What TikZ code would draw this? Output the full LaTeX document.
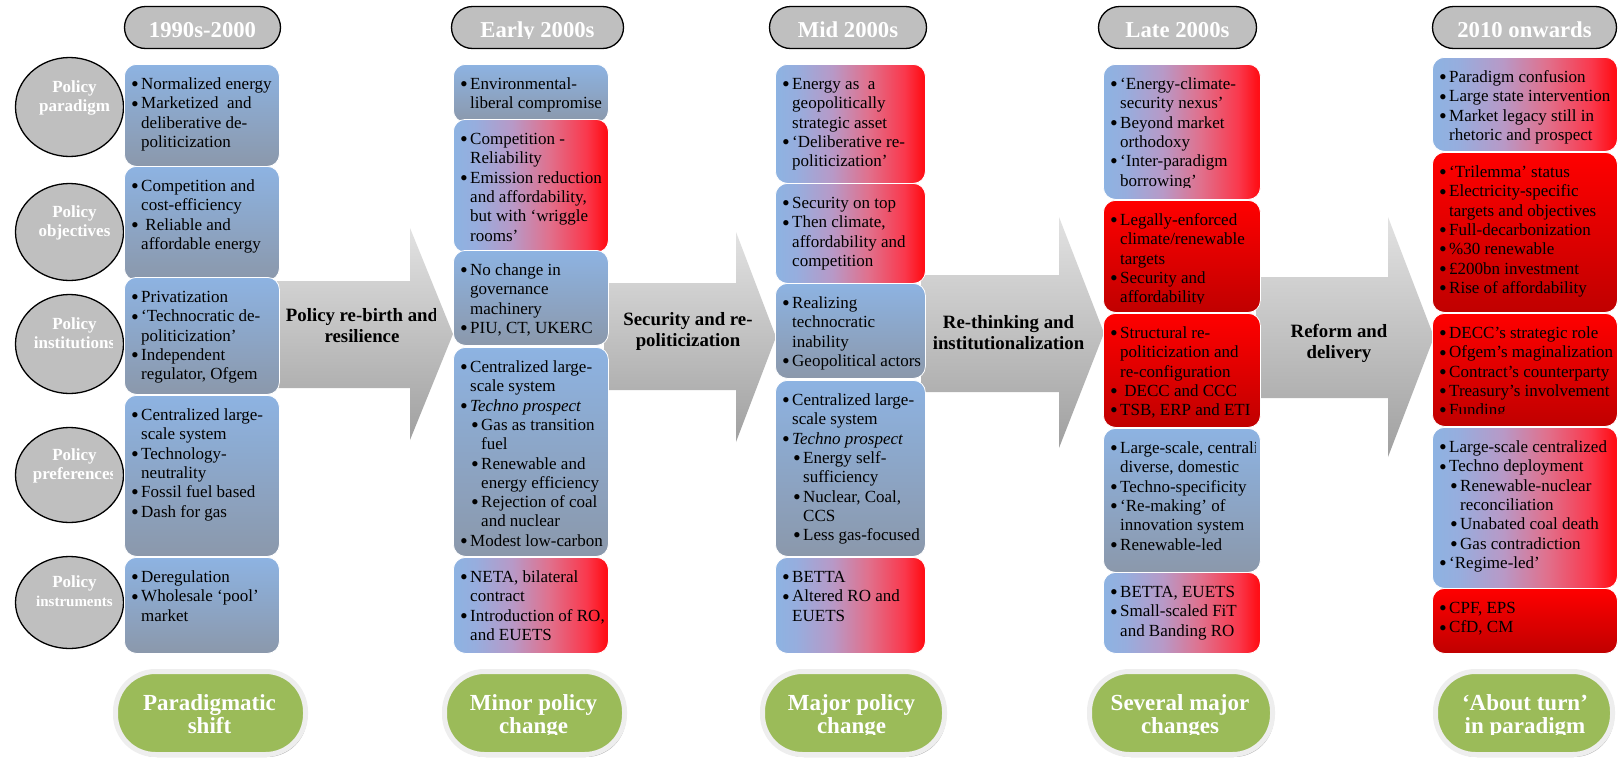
\documentclass[tikz,border=0pt]{standalone}
\usepackage{fontspec}
\setmainfont{Liberation Serif}
\usetikzlibrary{shapes.geometric,shadows}

\definecolor{bluet}{HTML}{8DB3E2}
\definecolor{grayb}{HTML}{8B98AB}
\definecolor{redt}{HTML}{FF0000}
\definecolor{redb}{HTML}{C00000}
\definecolor{pillg}{HTML}{BFBFBF}
\definecolor{grn}{HTML}{9BBB59}
\definecolor{gbord}{HTML}{EEEEEE}
\definecolor{arrt}{HTML}{E2E2E2}
\definecolor{arrb}{HTML}{A0A0A0}

\pgfdeclarehorizontalshading{bluered}{100bp}{rgb(0bp)=(0.553,0.702,0.886); rgb(25bp)=(0.553,0.702,0.886); rgb(32bp)=(0.59,0.68,0.87); rgb(44bp)=(0.72,0.60,0.78); rgb(56bp)=(0.88,0.44,0.55); rgb(68bp)=(0.98,0.22,0.30); rgb(74bp)=(1,0.06,0.09); rgb(100bp)=(1,0.06,0.09)}

\tikzset{
  boxbase/.style={rectangle, rounded corners=12pt, draw=white, line width=0.8pt, inner sep=0pt},
  bg/.style={top color=bluet, bottom color=grayb},
  br/.style={shading=bluered},
  rd/.style={top color=redt, bottom color=redb},
  boxtxt/.style={inner sep=0pt, font=\fontsize{17}{19.3}\selectfont, text=black},
  hdr/.style={rectangle, rounded corners=21pt, draw=black, line width=1.3pt, fill=pillg, minimum height=42pt, inner sep=0pt},
  hdrtxt/.style={inner sep=0pt, font=\fontsize{22.7}{24}\selectfont\bfseries, text=white},
  circ/.style={ellipse, draw=black, line width=1.3pt, fill=pillg, inner sep=0pt},
  circtxt/.style={inner sep=0pt, font=\fontsize{17}{19}\selectfont\bfseries, text=white},
  bigarrow/.style={top color=arrt, bottom color=arrb, draw=none},
  arrtxt/.style={inner sep=0pt, font=\fontsize{18.8}{21}\selectfont\bfseries, text=black},
  grnpill/.style={rectangle, rounded corners=40pt, fill=grn, draw=gbord, line width=5pt, minimum height=83pt, inner sep=0pt, drop shadow={shadow xshift=1.5pt, shadow yshift=-2.5pt, opacity=0.6}},
  grntxt/.style={inner sep=0pt, font=\fontsize{23}{23}\selectfont\bfseries, text=white},
}

\newcommand\dotb{\raisebox{-2.2pt}{\scalebox{1.3}{\textbullet}}}
\newcommand\bu{\makebox[10pt][l]{\dotb}}
\newcommand\cn{\hspace*{10pt}}
\newcommand\sbu{\hspace*{11pt}\makebox[10pt][l]{\dotb}}
\newcommand\scn{\hspace*{21pt}}

% name, x1, y1, x2, y2, fill style, bottom inset, content
\newcommand\polbox[8]{%
  \node[boxbase,#6,minimum width={#4-#2},minimum height={#5-#3},anchor=north west] (#1) at (#2,#3) {};
  \begin{scope}
    \clip (#2,#3) rectangle ({#4-5},{#5-#7});
    \node[boxtxt,anchor=base west] (#1t) at ({#2+7},{#3+25.5}) {\begin{tabular}[t]{@{}l@{}}#8\end{tabular}};
  \end{scope}}

% name, cx, width, text
\newcommand\hdrpill[4]{%
  \node[hdr,minimum width=#3] (#1) at (#2,27.5) {};
  \begin{scope}
    \clip ({#2-100},0) rectangle ({#2+100},38.5);
    \node[hdrtxt,anchor=base] (#1t) at (#2,37) {#4};
  \end{scope}}

% name, cy, height, text
\newcommand\polcirc[4]{%
  \node[circ,minimum width=108pt,minimum height=#3] (#1) at (69.5,#2) {};
  \begin{scope}
    \clip (15,{#2-50}) rectangle (112,{#2+50});
    \node[circtxt,anchor=base] (#1t) at (74.5,{#2-15}) {\begin{tabular}[t]{@{}c@{}}#4\end{tabular}};
  \end{scope}}

% name, cx, width, textcx, text
\newcommand\grpill[5]{%
  \node[grnpill,minimum width=#3] (#1) at (#2,713) {};
  \begin{scope}
    \clip ({#2-110},660) rectangle ({#2+110},734.5);
    \node[grntxt,anchor=base] (#1t) at (#4,710) {\begin{tabular}[t]{@{}c@{}}#5\end{tabular}};
  \end{scope}}

\begin{document}
\begin{tikzpicture}[x=1pt,y=-1pt]
\useasboundingbox (0,0) rectangle (1618,758);
\fill[white] (0,0) rectangle (1618,758);

% big arrows
\path[bigarrow] (275,281) -- (410,281) -- (410,228) -- (453,334) -- (410,440) -- (410,388) -- (275,388) -- cycle;
\path[bigarrow] (604,283) -- (736,283) -- (736,232) -- (776,337) -- (736,442) -- (736,390) -- (604,390) -- cycle;
\path[bigarrow] (921,275) -- (1059,275) -- (1059,217) -- (1104,333) -- (1059,448) -- (1059,392) -- (921,392) -- cycle;
\path[bigarrow] (1256,277) -- (1388,277) -- (1388,217) -- (1434,337) -- (1388,457) -- (1388,398) -- (1256,398) -- cycle;

\begin{scope}
  \clip (280,250) rectangle (435,420);
  \node[arrtxt,anchor=base] (a1) at (362,321) {\begin{tabular}[t]{@{}c@{}}Policy re-birth and\\resilience\end{tabular}};
\end{scope}
\node[arrtxt,anchor=base] (a2) at (688,325) {\begin{tabular}[t]{@{}c@{}}Security and re-\\politicization\end{tabular}};
\node[arrtxt,anchor=base] (a3) at (1008.5,328) {\begin{tabular}[t]{@{}c@{}}Re-thinking and\\institutionalization\end{tabular}};
\node[arrtxt,anchor=base] (a4) at (1339,337) {\begin{tabular}[t]{@{}c@{}}Reform and\\delivery\end{tabular}};

% headers
\hdrpill{h1}{202.5}{156pt}{1990s-2000}
\hdrpill{h2}{537.5}{172pt}{Early 2000s}
\hdrpill{h3}{848}{157pt}{Mid 2000s}
\hdrpill{h4}{1177.5}{158pt}{Late 2000s}
\hdrpill{h5}{1524.5}{184pt}{2010 onwards}

% category ellipses
\polcirc{e1}{107}{99pt}{Policy\\paradigm}
\polcirc{e2}{232}{97pt}{Policy\\objectives}
\polcirc{e3}{344}{99pt}{Policy\\institutions}
\polcirc{e4}{475}{95pt}{Policy\\preferences}
\polcirc{e5}{602.5}{92pt}{Policy\\{\fontsize{15}{19}\selectfont instruments}}

% column 1
\polbox{c1b1}{124}{64}{279}{166}{bg}{8}{\bu Normalized energy\\ \bu Marketized\ \ and\\ \cn deliberative de-\\ \cn politicization}
\polbox{c1b2}{124}{166}{279}{280}{bg}{8}{\bu Competition and\\ \cn cost-efficiency\\ \bu\ Reliable and\\ \cn affordable energy}
\polbox{c1b3}{124}{277}{279}{394}{bg}{8}{\bu Privatization\\ \bu ‘Technocratic de-\\ \cn politicization’\\ \bu Independent\\ \cn regulator, Ofgem}
\polbox{c1b4}{124}{395}{279}{556}{bg}{8}{\bu Centralized large-\\ \cn scale system\\ \bu Technology-\\ \cn neutrality\\ \bu Fossil fuel based\\ \bu Dash for gas}
\polbox{c1b5}{124}{557}{279}{653}{bg}{8}{\bu Deregulation\\ \bu Wholesale ‘pool’\\ \cn market}

% column 2
\polbox{c2b1}{453}{64}{608}{122}{bg}{8}{\bu Environmental-\\ \cn liberal compromise}
\polbox{c2b2}{453}{119}{608}{252}{br}{8}{\bu Competition -\\ \cn Reliability\\ \bu Emission reduction\\ \cn and affordability,\\ \cn but with ‘wriggle\\ \cn rooms’}
\polbox{c2b3}{453}{250}{608}{345}{bg}{8}{\bu No change in\\ \cn governance\\ \cn machinery\\ \bu PIU, CT, UKERC}
\polbox{c2b4}{453}{347}{608}{556}{bg}{8}{\bu Centralized large-\\ \cn scale system\\ \bu \textit{Techno prospect}\\ \sbu Gas as transition\\ \scn fuel\\ \sbu Renewable and\\ \scn energy efficiency\\ \sbu Rejection of coal\\ \scn and nuclear\\ \bu Modest low-carbon}
\polbox{c2b5}{453}{557}{608}{653}{br}{8}{\bu NETA, bilateral\\ \cn contract\\ \bu Introduction of RO,\\ \cn and EUETS}

% column 3
\polbox{c3b1}{775}{64}{925}{183}{br}{8}{\bu Energy as\ \ a\\ \cn geopolitically\\ \cn strategic asset\\ \bu ‘Deliberative re-\\ \cn politicization’}
\polbox{c3b2}{775}{183}{925}{283}{br}{8}{\bu Security on top\\ \bu Then climate,\\ \cn affordability and\\ \cn competition}
\polbox{c3b3}{775}{283}{925}{378}{bg}{8}{\bu Realizing\\ \cn technocratic\\ \cn inability\\ \bu Geopolitical actors}
\polbox{c3b4}{775}{380}{925}{556}{bg}{8}{\bu Centralized large-\\ \cn scale system\\ \bu \textit{Techno prospect}\\ \sbu Energy self-\\ \scn sufficiency\\ \sbu Nuclear, Coal,\\ \scn CCS\\ \sbu Less gas-focused}
\polbox{c3b5}{775}{557}{925}{653}{br}{8}{\bu BETTA\\ \bu Altered RO and\\ \cn EUETS}

% column 4
\polbox{c4b1}{1103}{64}{1260}{199}{br}{12}{\bu ‘Energy-climate-\\ \cn security nexus’\\ \bu Beyond market\\ \cn orthodoxy\\ \bu ‘Inter-paradigm\\ \cn borrowing’}
\polbox{c4b2}{1103}{200}{1260}{312}{rd}{9}{\bu Legally-enforced\\ \cn climate/renewable\\ \cn targets\\ \bu Security and\\ \cn affordability}
\polbox{c4b3}{1103}{313}{1260}{427}{rd}{8}{\bu Structural re-\\ \cn politicization and\\ \cn re-configuration\\ \bu\ DECC and CCC\\ \bu TSB, ERP and ETI}
\polbox{c4b4}{1103}{428}{1260}{572}{bg}{8}{\bu Large-scale, centralized\\ \cn diverse, domestic\\ \bu Techno-specificity\\ \bu ‘Re-making’ of\\ \cn innovation system\\ \bu Renewable-led}
\polbox{c4b5}{1103}{572}{1260}{653}{br}{8}{\bu BETTA, EUETS\\ \bu Small-scaled FiT\\ \cn and Banding RO}

% column 5
\polbox{c5b1}{1432}{57}{1617}{151}{br}{4}{\bu Paradigm confusion\\ \bu Large state intervention\\ \bu Market legacy still in\\ \cn rhetoric and prospect}
\polbox{c5b2}{1432}{152}{1617}{312}{rd}{8}{\bu ‘Trilemma’ status\\ \bu Electricity-specific\\ \cn targets and objectives\\ \bu Full-decarbonization\\ \bu \%30 renewable\\ \bu £200bn investment\\ \bu Rise of affordability}
\polbox{c5b3}{1432}{313}{1617}{426}{rd}{13}{\bu DECC’s strategic role\\ \bu Ofgem’s maginalization\\ \bu Contract’s counterparty\\ \bu Treasury’s involvement\\ \bu Funding}
\polbox{c5b4}{1432}{427}{1617}{588}{br}{8}{\bu Large-scale centralized\\ \bu Techno deployment\\ \sbu Renewable-nuclear\\ \scn reconciliation\\ \sbu Unabated coal death\\ \sbu Gas contradiction\\ \bu ‘Regime-led’}
\polbox{c5b5}{1432}{588}{1617}{653}{rd}{8}{\bu CPF, EPS\\ \bu CfD, CM}

% green outcome pills
\grpill{g1}{210.5}{190pt}{209.5}{Paradigmatic\\shift}
\grpill{g2}{534.5}{180pt}{533.5}{Minor policy\\change}
\grpill{g3}{853.5}{182pt}{851.5}{Major policy\\change}
\grpill{g4}{1181}{183pt}{1180}{Several major\\changes}
\grpill{g5}{1524}{177pt}{1525}{‘About turn’\\in paradigm}
\end{tikzpicture}
\end{document}
